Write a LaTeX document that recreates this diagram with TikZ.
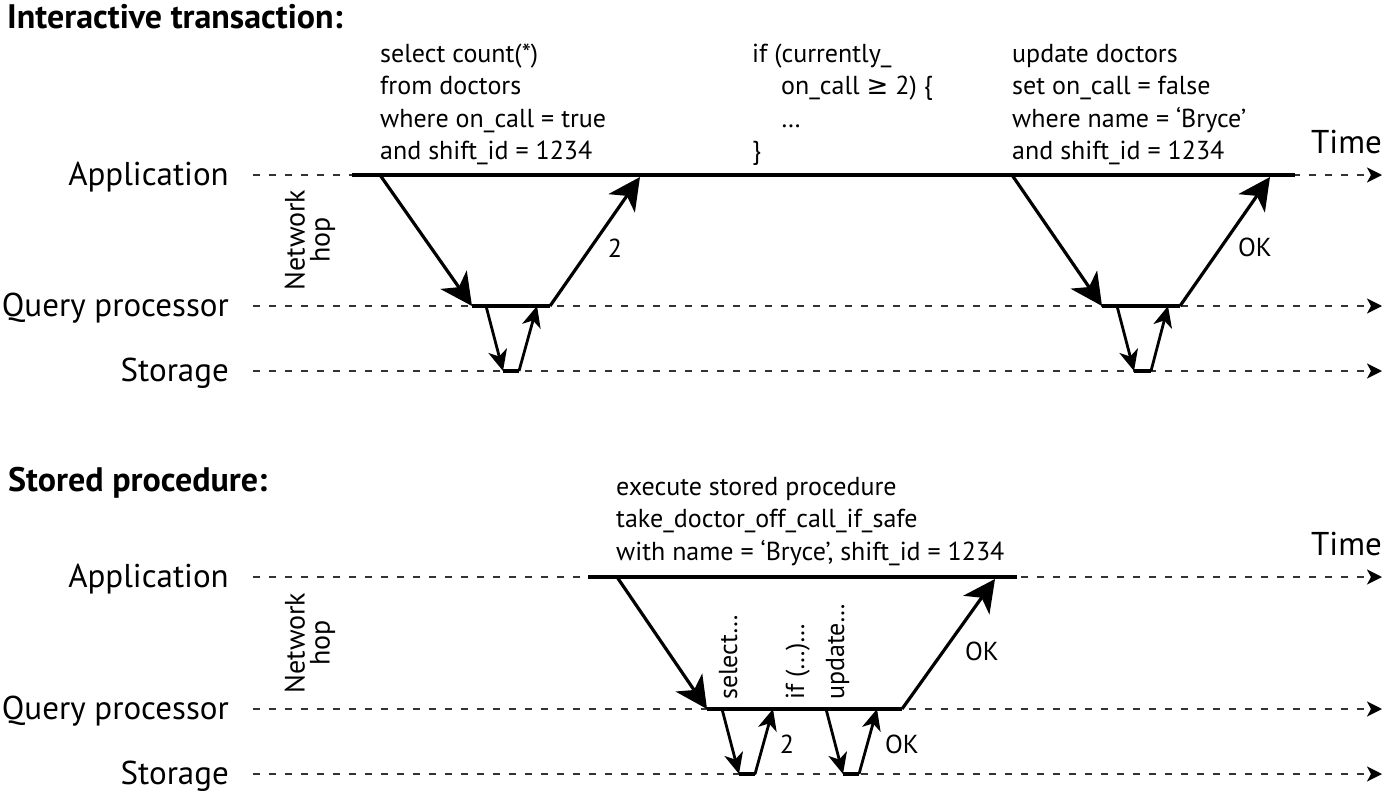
\documentclass[tikz,border=0pt]{standalone}
\usepackage{fontspec}
\setmainfont{PT Sans}
\newfontfamily\symfont{DejaVu Sans}
\usetikzlibrary{arrows.meta}

\tikzset{
	lane/.style={dash pattern=on 7pt off 9pt, line width=2pt, black!80,
		-{Stealth[length=15pt,width=15pt,inset=4pt,black]}},
	busy/.style={line width=3.6pt},
	hop/.style={line width=3.2pt, -{Stealth[length=32pt,width=32pt,inset=9pt]}},
	shorthop/.style={line width=2.8pt, -{Stealth[length=21pt,width=19pt,inset=6pt]}},
	rowlabel/.style={anchor=base east, inner sep=0pt, font=\fontsize{33}{38}\selectfont},
	title/.style={anchor=base west, inner sep=0pt, font=\fontsize{34}{38}\selectfont\bfseries},
	code/.style={anchor=base west, inner sep=0pt, font=\fontsize{26}{32.5}\selectfont},
	reply/.style={font=\fontsize{26}{28}\selectfont},
	nethop/.style={rotate=90, align=center, font=\fontsize{28}{25}\selectfont},
	step label/.style={rotate=90, anchor=base west, inner sep=0pt, font=\fontsize{26}{28}\selectfont}
}

\begin{document}
\begin{tikzpicture}[x=1pt, y=-1pt]
	\useasboundingbox (0,0) rectangle (1384,793);

	% interactive transaction
	\node[title] (t) at (7,28) {Interactive transaction:};

	\node[rowlabel] (app1) at (229,185) {Application};
	\node[rowlabel] (qp1) at (229,316) {Query processor};
	\node[rowlabel] (st1) at (229,381) {Storage};
	\node[rowlabel] (time1) at (1382,153) {Time};

	\coordinate (app1s) at (253,175);
	\coordinate (app1e) at (1382,175);
	\coordinate (qp1s) at (253,306);
	\coordinate (qp1e) at (1382,306);
	\coordinate (st1s) at (253,371);
	\coordinate (st1e) at (1382,371);

	\draw[lane] (app1s) -- (app1e);
	\draw[lane] (qp1s) -- (qp1e);
	\draw[lane] (st1s) -- (st1e);

	\node[nethop] (hop1) at (310,240) {Network\\hop};

	\node[code] (sel) at (380,62) {\begin{tabular}[t]{@{}l@{}}
		select count(*)\\
		from doctors\\
		where on\_call = true\\
		and shift\_id = 1234
	\end{tabular}};
	\node[code] (cond) at (752,62) {\begin{tabular}[t]{@{}l@{}}
		if (currently\_\\
		\hspace*{29pt}on\_call {\symfont ≥} 2) \{\\
		\hspace*{29pt}…\\
		\}
	\end{tabular}};
	\node[code] (upd) at (1012,62) {\begin{tabular}[t]{@{}l@{}}
		update doctors\\
		set on\_call = false\\
		where name = ‘Bryce’\\
		and shift\_id = 1234
	\end{tabular}};

	\coordinate (a1) at (380,175);
	\coordinate (q1) at (472,306);
	\coordinate (q2) at (550,306);
	\coordinate (a2) at (640,177);
	\coordinate (q3) at (486,306);
	\coordinate (s1) at (503,371);
	\coordinate (s2) at (519,371);
	\coordinate (q4) at (537,306);

	\coordinate (a3) at (1012,175);
	\coordinate (q5) at (1102,306);
	\coordinate (q6) at (1180,306);
	\coordinate (a4) at (1270,177);
	\coordinate (q7) at (1117,306);
	\coordinate (s3) at (1134,371);
	\coordinate (s4) at (1151,371);
	\coordinate (q8) at (1168,306);

	\coordinate (app1a) at (352,175);
	\coordinate (app1b) at (1295,175);
	\draw[busy] (app1a) -- (app1b);
	\draw[busy] (q1) -- (q2);
	\draw[busy] (q5) -- (q6);
	\draw[busy] (s1) -- (s2);
	\draw[busy] (s3) -- (s4);

	\draw[hop] (a1) -- (q1);
	\draw[hop] (q2) -- (a2);
	\draw[shorthop] (q3) -- (s1);
	\draw[shorthop] (s2) -- (q4);
	\draw[hop] (a3) -- (q5);
	\draw[hop] (q6) -- (a4);
	\draw[shorthop] (q7) -- (s3);
	\draw[shorthop] (s4) -- (q8);

	\node[reply] (r1) at (615,248) {2};
	\node[reply] (r2) at (1255,247) {OK};

	% stored procedure
	\node[title] (sp) at (8,491) {Stored procedure:};

	\node[rowlabel] (app2) at (229,587) {Application};
	\node[rowlabel] (qp2) at (229,719) {Query processor};
	\node[rowlabel] (st2) at (229,784) {Storage};
	\node[rowlabel] (time2) at (1382,555) {Time};

	\coordinate (app2s) at (253,577);
	\coordinate (app2e) at (1382,577);
	\coordinate (qp2s) at (253,709);
	\coordinate (qp2e) at (1382,709);
	\coordinate (st2s) at (253,774);
	\coordinate (st2e) at (1382,774);

	\draw[lane] (app2s) -- (app2e);
	\draw[lane] (qp2s) -- (qp2e);
	\draw[lane] (st2s) -- (st2e);

	\node[nethop] (hop2) at (310,643) {Network\\hop};

	\node[code] (exec) at (616,495) {\begin{tabular}[t]{@{}l@{}}
		execute stored procedure\\
		take\_doctor\_off\_call\_if\_safe\\
		with name = ‘Bryce’, shift\_id = 1234
	\end{tabular}};

	\coordinate (a5) at (617,577);
	\coordinate (q9) at (707,709);
	\coordinate (q10) at (902,709);
	\coordinate (a6) at (995,579);
	\coordinate (q11) at (722,709);
	\coordinate (s5) at (739,774);
	\coordinate (s6) at (755,774);
	\coordinate (q12) at (773,709);
	\coordinate (q13) at (826,709);
	\coordinate (s7) at (843,774);
	\coordinate (s8) at (859,774);
	\coordinate (q14) at (877,709);

	\coordinate (app2a) at (588,577);
	\coordinate (app2b) at (1017,577);
	\draw[busy] (app2a) -- (app2b);
	\draw[busy] (q9) -- (q10);
	\draw[busy] (s5) -- (s6);
	\draw[busy] (s7) -- (s8);

	\draw[hop] (a5) -- (q9);
	\draw[hop] (q10) -- (a6);
	\draw[shorthop] (q11) -- (s5);
	\draw[shorthop] (s6) -- (q12);
	\draw[shorthop] (q13) -- (s7);
	\draw[shorthop] (s8) -- (q14);

	\node[step label] (l1) at (737,700) {select…};
	\node[step label] (l2) at (804,700) {if (…)…};
	\node[step label] (l3) at (844,700) {update…};

	\node[reply] (r3) at (787,744) {2};
	\node[reply] (r4) at (902,744) {OK};
	\node[reply] (r5) at (982,651) {OK};
\end{tikzpicture}
\end{document}
